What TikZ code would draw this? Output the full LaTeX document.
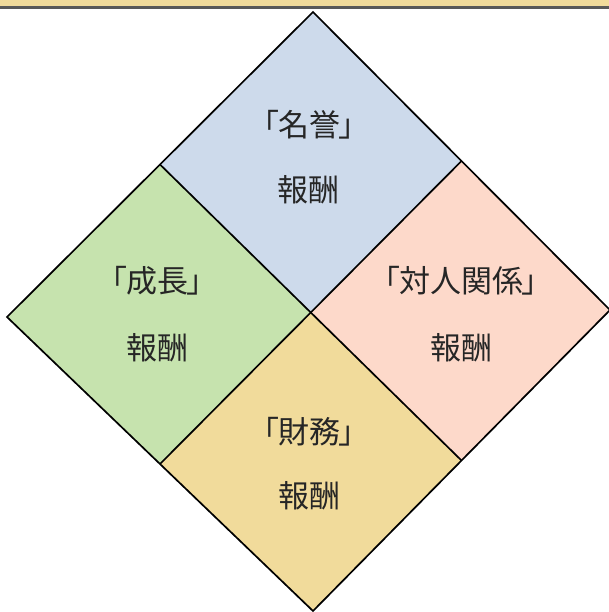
\documentclass[tikz,border=0pt]{standalone}
\usepackage{fontspec}
\usetikzlibrary{calc}
\newfontfamily\jp{Noto Sans CJK JP}
\definecolor{cblue}{HTML}{CDDAEB}
\definecolor{cgreen}{HTML}{C6E3AE}
\definecolor{cpink}{HTML}{FDD9CA}
\definecolor{cyel}{HTML}{F1DB9B}
\definecolor{cgray}{HTML}{595959}
\tikzset{
  quad/.style={draw=black, line width=1.7pt, line join=miter},
  lbl/.style={font=\jp\fontsize{31}{34}\selectfont, inner sep=0pt, text=black!85},
}
\newcommand{\kl}{「\hspace{-0.05em}}
\newcommand{\kr}{\hspace{-0.05em}」}
\begin{document}
\begin{tikzpicture}[x=1pt,y=-1pt]
\useasboundingbox (0,0) rectangle (609,612);
\fill[cyel] (0,0) rectangle (609,6.5);
\fill[cgray] (0,6.5) rectangle (609,9);
\coordinate (T) at (313,12);
\coordinate (L) at (7,317);
\coordinate (R) at (610,310);
\coordinate (B) at (313,611);
\coordinate (TL) at ($(T)!0.5!(L)$);
\coordinate (TR) at ($(T)!0.5!(R)$);
\coordinate (BL) at ($(B)!0.5!(L)$);
\coordinate (BR) at ($(B)!0.5!(R)$);
\coordinate (C) at ($(TL)!0.5!(BR)$);
\fill[cblue] (T) -- (TR) -- (C) -- (TL) -- cycle;
\fill[cgreen] (TL) -- (C) -- (BL) -- (L) -- cycle;
\fill[cpink] (TR) -- (R) -- (BR) -- (C) -- cycle;
\fill[cyel] (C) -- (BR) -- (B) -- (BL) -- cycle;
\draw[quad] (T) -- (R) -- (B) -- (L) -- cycle;
\draw[quad] (TL) -- (BR);
\draw[quad] (TR) -- (BL);
\node[lbl] (n1) at (309,125) {\kl 名誉\kr};
\node[lbl] (n2) at (308,190) {報酬};
\node[lbl] (g1) at (157,281) {\kl 成長\kr};
\node[lbl] (g2) at (157,348) {報酬};
\node[lbl] (p1) at (461,281) {\kl 対人関係\kr};
\node[lbl] (p2) at (461,348) {報酬};
\node[lbl] (y1) at (309,432) {\kl 財務\kr};
\node[lbl] (y2) at (309,496) {報酬};
\end{tikzpicture}
\end{document}
